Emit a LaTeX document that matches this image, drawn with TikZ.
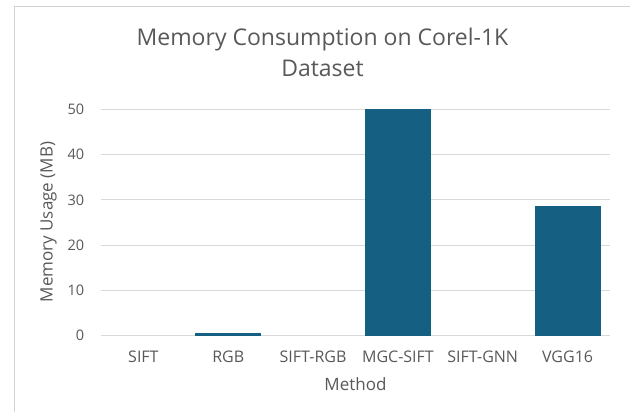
\documentclass[tikz,border=0pt]{standalone}
\usepackage{fontspec}
\setmainfont{Open Sans}
\begin{document}
\begin{tikzpicture}[x=1pt,y=-1pt,
  txt/.style={text=axisgray,inner sep=0pt},
  ticklab/.style={txt,font=\fontsize{14.5}{16}\selectfont},
  catlab/.style={txt,font=\fontsize{16}{18}\selectfont},
  axtitle/.style={txt,font=\fontsize{17}{20}\selectfont},
  ttl/.style={txt,anchor=base,font=\fontsize{23}{31}\selectfont},
  grid/.style={draw=gridgray,line width=1pt},
  bar/.style={fill=barblue,draw=none}]
\definecolor{axisgray}{RGB}{89,89,89}
\definecolor{gridgray}{RGB}{217,217,217}
\definecolor{barblue}{RGB}{21,96,130}
\definecolor{framegray}{RGB}{210,210,210}
\useasboundingbox[fill=white] (0,0) rectangle (630,412);
% chart frame
\draw[framegray,line width=1pt] (14.5,412) -- (14.5,7) -- (630,7);
% title
\node[ttl] (title1) at (322.5,46) {Memory Consumption on Corel-1K};
\node[ttl] (title2) at (322.5,77) {Dataset};
% gridlines and value labels (0 at y=335.5, 4.52 px per MB)
\foreach \v in {0,10,...,50}{
  \draw[grid] (101,335.5-4.52*\v) -- (610,335.5-4.52*\v);
  \node[ticklab,anchor=east] (yl\v) at (84.3,335.5-4.52*\v) {\v};
}
% bars
\def\cw{84.83}
\fill[bar] (228.2-33,335.5-4.52*0.65) rectangle (228.2+33,335.5);
\fill[bar] (397.9-33,335.5-4.52*50.1) rectangle (397.9+33,335.5);
\fill[bar] (567.6-33,335.5-4.52*28.7) rectangle (567.6+33,335.5);
% category labels
\foreach \lab [count=\i] in {SIFT,RGB,SIFT-RGB,MGC-SIFT,SIFT-GNN,VGG16}{
  \node[catlab] (cat\i) at (101+\cw*\i-\cw/2,357) {\lab};
}
% axis titles
\node[axtitle] (xtitle) at (355.5,384) {Method};
\node[axtitle,rotate=90] (ytitle) at (48.5,222) {Memory Usage (MB)};
\end{tikzpicture}
\end{document}
